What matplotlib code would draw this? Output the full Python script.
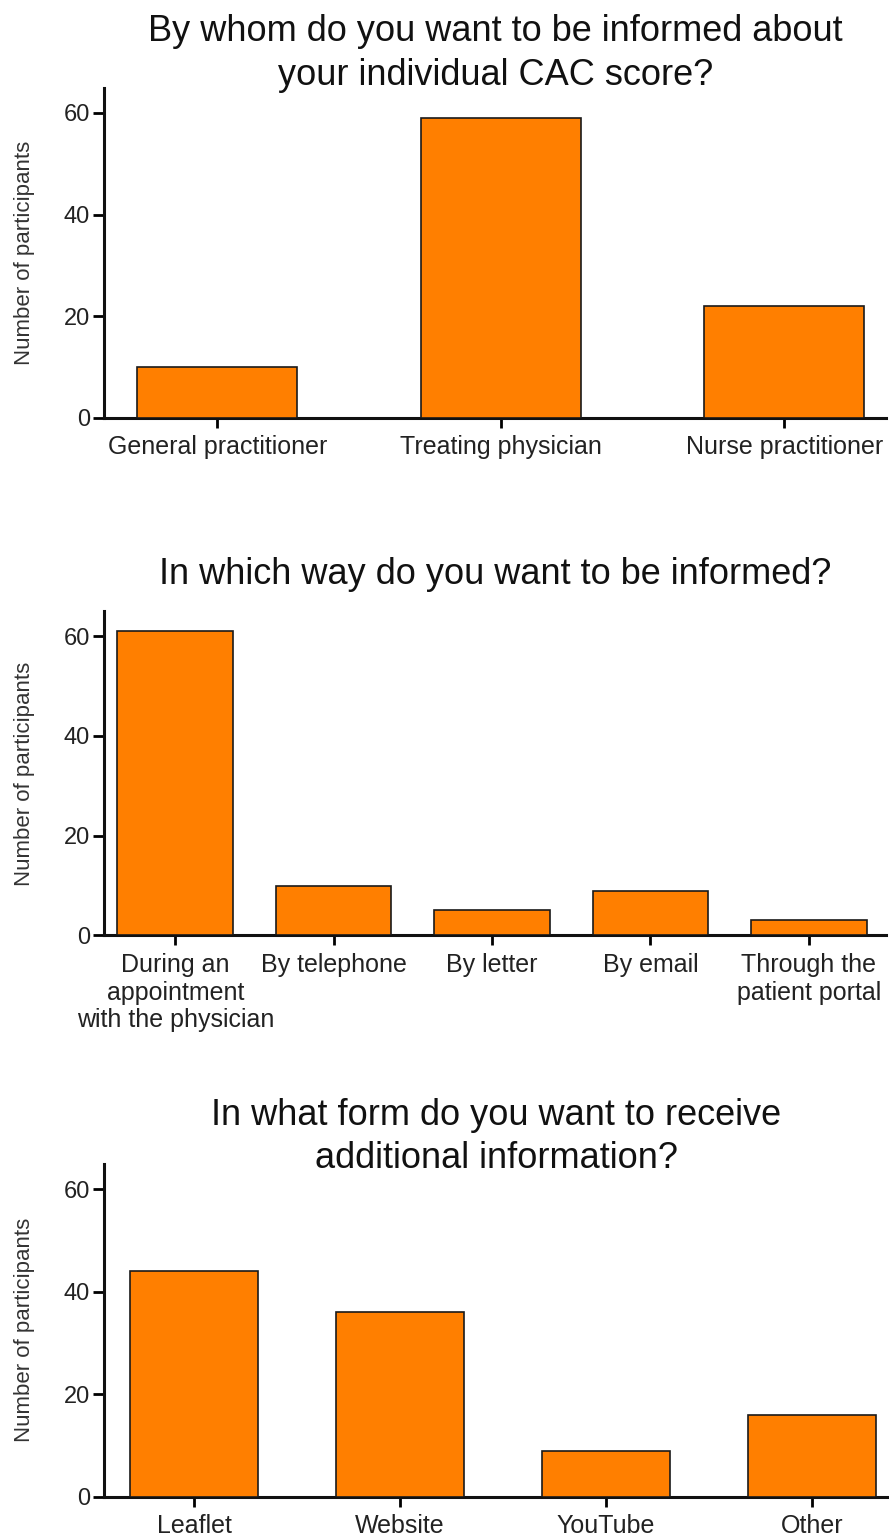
import matplotlib
matplotlib.use("Agg")
import matplotlib.pyplot as plt

plt.rcParams['font.family'] = ['Liberation Sans', 'DejaVu Sans']

titles = ["By whom do you want to be informed about\nyour individual CAC score?",
          "In which way do you want to be informed?",
          "In what form do you want to receive\nadditional information?"]

cats1 = ["General practitioner", "Treating physician", "Nurse practitioner"]
vals1 = [10, 59, 22]

cats2 = ["During an\nappointment\nwith the physician", "By telephone", "By letter",
         "By email", "Through the\npatient portal"]
vals2 = [61, 10, 5, 9, 3]

cats3 = ["Leaflet", "Website", "YouTube", "Other"]
vals3 = [44, 36, 9, 16]

ylabel = "Number of participants"
yticks = [0, 20, 40, 60]

panels = [
    (cats1, vals1, titles[0], [0.117, 0.728, 0.880, 0.215], 0.565, (-0.40, 2.36), -3.6),
    (cats2, vals2, titles[1], [0.117, 0.391, 0.880, 0.211], 0.73, (-0.45, 4.49), 13.7),
    (cats3, vals3, titles[2], [0.117, 0.0254, 0.883, 0.217], 0.62, (-0.437, 3.373), -8.6),
]

fig = plt.figure(figsize=(8.89, 15.36), dpi=100)
orange = '#FF7F00'

for cats, vals, title, rect, width, xlim, tpad in panels:
    ax = fig.add_axes(rect)
    x = list(range(len(cats)))
    ax.bar(x, vals, width=width, color=orange, edgecolor='#1a1a1a', linewidth=1.2, zorder=3)
    ax.set_xlim(*xlim)
    ax.set_ylim(0, 65)
    ax.set_yticks(yticks)
    ax.set_xticks(x)
    ax.set_xticklabels(cats, fontsize=18, color='#222222', linespacing=1.2)
    ax.tick_params(axis='y', labelsize=17, labelcolor='#222222', length=8, width=2, pad=2)
    ax.tick_params(axis='x', length=7, width=2, pad=5.5)
    for s in ['top', 'right']:
        ax.spines[s].set_visible(False)
    for s in ['left', 'bottom']:
        ax.spines[s].set_linewidth(2.2)
        ax.spines[s].set_color('#111111')
    ax.set_ylabel(ylabel, fontsize=16, color='#333333', labelpad=21)
    ax.set_title(title, fontsize=26, color='#111111', pad=tpad, linespacing=1.3,
                 y=1.0, verticalalignment='bottom')

fig.savefig("out.png", dpi=100)
